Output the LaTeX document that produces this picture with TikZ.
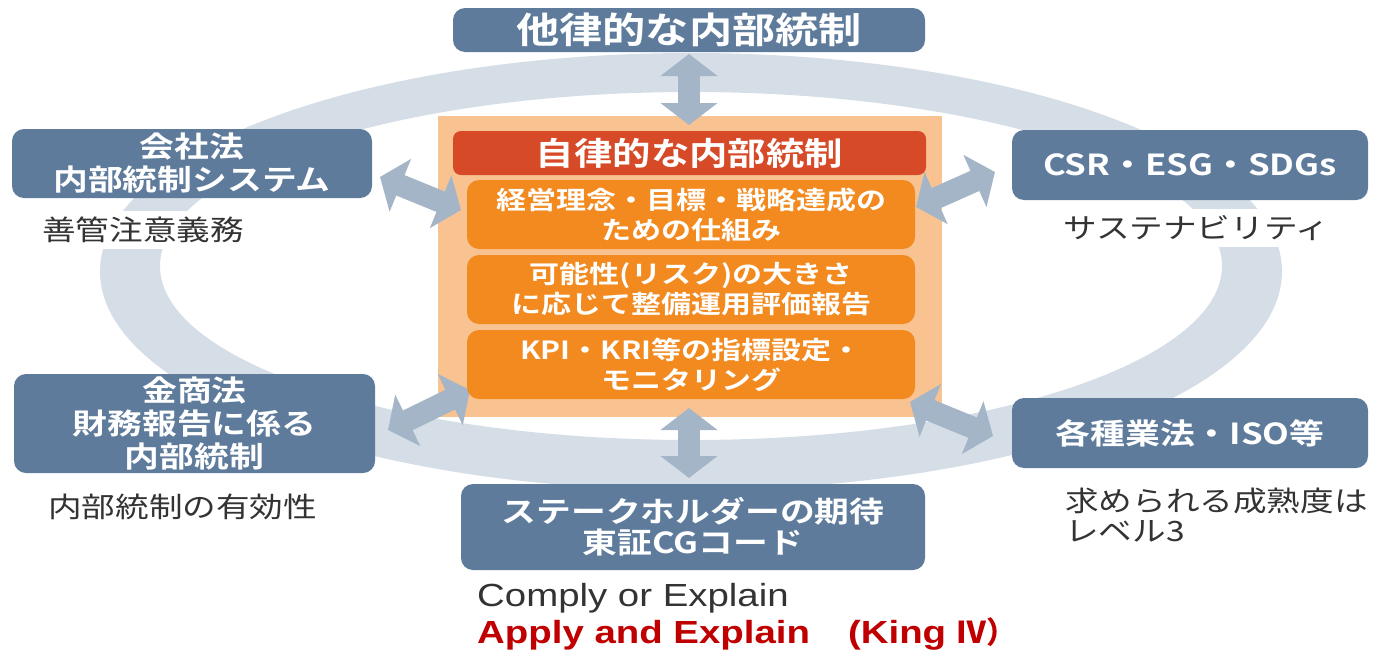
\documentclass[tikz,border=0pt]{standalone}
\usepackage{fontspec}
\setmainfont{Noto Sans CJK JP}[FakeStretch=1.2,BoldFont={Noto Sans CJK JP Bold}]
\newfontfamily\lat{Liberation Sans}[FakeStretch=1.2]
\usetikzlibrary{arrows.meta}
\definecolor{boxblue}{HTML}{5E7B9C}
\definecolor{ringc}{HTML}{D5DEE6}
\definecolor{arrc}{HTML}{A4B5C8}
\definecolor{panelc}{HTML}{F9C391}
\definecolor{hdrred}{HTML}{D64A28}
\definecolor{orangec}{HTML}{F28A1F}
\definecolor{txtgray}{HTML}{333333}
\definecolor{redtxt}{HTML}{C00000}
\tikzset{
 bluebox/.style={fill=boxblue, rounded corners=12pt, text=white, font=\bfseries\fontsize{29}{33}\selectfont, align=center, inner sep=0pt},
 obox/.style={fill=orangec, rounded corners=12pt, text=white, font=\bfseries\fontsize{25}{30}\selectfont, align=center, inner sep=0pt, minimum width=448pt, minimum height=69pt},
 lbl/.style={fill=white, text=txtgray, font=\fontsize{28}{31}\selectfont, inner sep=6pt, anchor=west},
 dbl/.style={draw=arrc, line width=22pt, {Triangle[length=22pt,width=56pt]}-{Triangle[length=22pt,width=56pt]}},
}
\begin{document}
\begin{tikzpicture}[x=1pt,y=-1pt]
\useasboundingbox (0,0) rectangle (1377,651);
% ring
\fill[ringc, even odd rule] (691,271.5) ellipse [x radius=591, y radius=218.5]
  (691,266) ellipse [x radius=531, y radius=174];
% labels
\node[lbl] (l1) at (36,230) {善管注意義務};
\node[lbl] (l2) at (1057,228) {サステナビリティ};
\node[lbl] (l3) at (42,507) {内部統制の有効性};
\node[lbl, align=left, font=\fontsize{28}{30}\selectfont] (l4) at (1059,515) {求められる成熟度は\\レベル3};
\node[anchor=west, inner sep=0pt, text=txtgray, font=\lat\fontsize{32}{36}\selectfont] (l5) at (477,598) {Comply or Explain};
\node[anchor=west, inner sep=0pt, text=redtxt, font=\lat\bfseries\fontsize{32}{36}\selectfont] (l6) at (477,634) {Apply and Explain\hspace{38pt}(King {\fontspec{Noto Sans CJK JP Bold}[FakeStretch=1.0]\fontsize{30}{34}\selectfont Ⅳ）}};
% blue boxes
\node[bluebox, minimum width=472pt, minimum height=44pt, font=\bfseries\fontsize{36}{40}\selectfont] (top) at (689,30) {他律的な内部統制};
\node[bluebox, minimum width=360pt, minimum height=69pt] (kaisha) at (192,163.5) {会社法\\内部統制システム};
\node[bluebox, minimum width=356pt, minimum height=70pt] (csr) at (1190,165) {CSR・ESG・SDGs};
\node[bluebox, minimum width=361pt, minimum height=99pt] (kinsho) at (194.5,423.5) {金商法\\財務報告に係る\\内部統制};
\node[bluebox, minimum width=356pt, minimum height=70pt] (kakushu) at (1190,433) {各種業法・ISO等};
\node[bluebox, minimum width=464pt, minimum height=86pt, font=\bfseries\fontsize{29}{31}\selectfont] (bottom) at (693,527) {ステークホルダーの期待\\東証CGコード};
% panel
\node[fill=panelc, inner sep=0pt, minimum width=504pt, minimum height=301pt] (panel) at (690,266.5) {};
% arrows
\coordinate (tA) at (689,54); \coordinate (tB) at (689,125);
\coordinate (bA) at (689,408); \coordinate (bB) at (689,478);
\coordinate (ulA) at (380,177); \coordinate (ulB) at (461,210);
\coordinate (urA) at (916,207); \coordinate (urB) at (995,172);
\coordinate (llA) at (388,430); \coordinate (llB) at (470,390);
\coordinate (lrA) at (910,402); \coordinate (lrB) at (993,436);
\draw[dbl] (tA) -- (tB);
\draw[dbl] (bA) -- (bB);
\draw[dbl] (ulA) -- (ulB);
\draw[dbl] (urA) -- (urB);
\draw[dbl] (llA) -- (llB);
\draw[dbl] (lrA) -- (lrB);
% header and orange boxes
\node[fill=hdrred, rounded corners=8pt, text=white, inner sep=0pt, minimum width=473pt, minimum height=44pt, font=\bfseries\fontsize{32}{36}\selectfont] (hdr) at (689.5,153) {自律的な内部統制};
\node[obox] (o1) at (691,214.5) {経営理念・目標・戦略達成の\\ための仕組み};
\node[obox] (o2) at (691,289.5) {可能性(リスク)の大きさ\\に応じて整備運用評価報告};
\node[obox] (o3) at (691,364.5) {KPI・KRI等の指標設定・\\モニタリング};
\end{tikzpicture}
\end{document}
